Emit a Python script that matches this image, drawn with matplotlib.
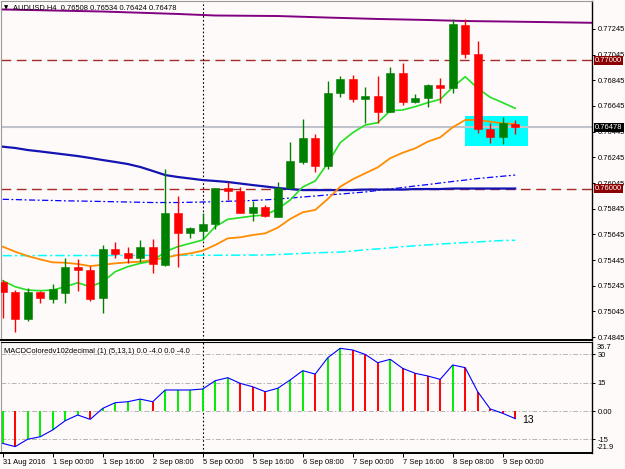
import matplotlib
matplotlib.use('Agg')
import matplotlib.pyplot as plt
import numpy as np

plt.rcParams['font.family'] = ['Liberation Sans', 'DejaVu Sans']

# ---------------- data ----------------
opens = [0.75274, 0.75198, 0.74985, 0.75198, 0.75141, 0.75190, 0.75388, 0.75367, 0.75147, 0.75531,
         0.75497, 0.75463, 0.75544, 0.75406, 0.75814, 0.75653, 0.75673, 0.75726, 0.76004, 0.75983,
         0.75814, 0.75860, 0.75782, 0.76004, 0.76211, 0.76393, 0.76180, 0.76744, 0.76853, 0.76702,
         0.76723, 0.76601, 0.76900, 0.76679, 0.76705, 0.76809, 0.76783, 0.77276, 0.77048, 0.76463,
         0.76401, 0.76508]
highs = [0.75289, 0.75211, 0.75225, 0.75207, 0.75256, 0.75458, 0.75450, 0.75398, 0.75562, 0.75583,
         0.75549, 0.75601, 0.75609, 0.76152, 0.75944, 0.75705, 0.75809, 0.76010, 0.76055, 0.76016,
         0.75905, 0.75874, 0.76055, 0.76362, 0.76544, 0.76427, 0.76842, 0.76879, 0.76887, 0.76795,
         0.76879, 0.76951, 0.76978, 0.76736, 0.76816, 0.76861, 0.77321, 0.77321, 0.77154, 0.76510,
         0.76562, 0.76534]
lows = [0.74993, 0.74886, 0.74970, 0.75108, 0.75112, 0.75112, 0.75206, 0.75128, 0.75030, 0.75458,
        0.75419, 0.75432, 0.75346, 0.75402, 0.75393, 0.75614, 0.75609, 0.75687, 0.75913, 0.75809,
        0.75751, 0.75778, 0.75778, 0.75998, 0.76193, 0.76133, 0.76152, 0.76713, 0.76679, 0.76515,
        0.76510, 0.76598, 0.76653, 0.76666, 0.76640, 0.76666, 0.76749, 0.77021, 0.76437, 0.76359,
        0.76347, 0.76424]
closes = [0.75196, 0.74985, 0.75198, 0.75147, 0.75219, 0.75388, 0.75367, 0.75139, 0.75531, 0.75492,
          0.75463, 0.75544, 0.75412, 0.75814, 0.75653, 0.75692, 0.75723, 0.76004, 0.75983, 0.75814,
          0.75860, 0.75788, 0.76004, 0.76216, 0.76393, 0.76180, 0.76749, 0.76853, 0.76697, 0.76723,
          0.76601, 0.76900, 0.76679, 0.76705, 0.76809, 0.76783, 0.77284, 0.77048, 0.76463, 0.76406,
          0.76510, 0.76478]

ma_fast = [0.75284, 0.75237, 0.75211, 0.75206, 0.75211, 0.75237, 0.75268, 0.75237, 0.75276, 0.75354,
           0.75393, 0.75419, 0.75437, 0.75510, 0.75549, 0.75575, 0.75601, 0.75705, 0.75762, 0.75775,
           0.75788, 0.75796, 0.75842, 0.75913, 0.76014, 0.76061, 0.76199, 0.76359, 0.76437, 0.76497,
           0.76515, 0.76608, 0.76614, 0.76640, 0.76671, 0.76697, 0.76791, 0.76873, 0.76783, 0.76713,
           0.76671, 0.76627]
ma_mid = [0.75549, 0.75510, 0.75476, 0.75450, 0.75427, 0.75424, 0.75414, 0.75398, 0.75408, 0.75419,
          0.75427, 0.75432, 0.75445, 0.75463, 0.75484, 0.75497, 0.75518, 0.75562, 0.75614, 0.75622,
          0.75640, 0.75653, 0.75697, 0.75765, 0.75817, 0.75835, 0.75920, 0.76016, 0.76074, 0.76121,
          0.76167, 0.76238, 0.76281, 0.76315, 0.76367, 0.76401, 0.76479, 0.76536, 0.76536, 0.76523,
          0.76510, 0.76505]
ma_slow = [0.76328, 0.76318, 0.76302, 0.76291, 0.76279, 0.76267, 0.76255, 0.76240, 0.76224, 0.76209,
           0.76193, 0.76170, 0.76139, 0.76107, 0.76092, 0.76080, 0.76068, 0.76061, 0.76053, 0.76041,
           0.76029, 0.76018, 0.76006, 0.75998, 0.75990, 0.75990, 0.75990, 0.75990, 0.75990, 0.75994,
           0.75994, 0.75994, 0.75994, 0.75998, 0.75998, 0.75998, 0.76002, 0.76002, 0.76002, 0.76002,
           0.76002, 0.76002]
ma_dashdot = [0.75918, 0.75916, 0.75913, 0.75911, 0.75909, 0.75906, 0.75905, 0.75903, 0.75901, 0.75899,
              0.75897, 0.75895, 0.75893, 0.75893, 0.75893, 0.75895, 0.75897, 0.75899, 0.75903, 0.75905,
              0.75909, 0.75914, 0.75920, 0.75928, 0.75936, 0.75944, 0.75952, 0.75959, 0.75967, 0.75975,
              0.75987, 0.75998, 0.76010, 0.76022, 0.76033, 0.76045, 0.76057, 0.76068, 0.76080, 0.76089,
              0.76098, 0.76107]
ma_cyan = [0.75479, 0.75479, 0.75479, 0.75480, 0.75480, 0.75480, 0.75480, 0.75480, 0.75480, 0.75481,
           0.75481, 0.75481, 0.75482, 0.75482, 0.75482, 0.75482, 0.75482, 0.75482, 0.75483, 0.75483,
           0.75484, 0.75484, 0.75488, 0.75492, 0.75497, 0.75501, 0.75504, 0.75507, 0.75515, 0.75525,
           0.75532, 0.75540, 0.75549, 0.75556, 0.75563, 0.75570, 0.75575, 0.75581, 0.75586, 0.75592,
           0.75597, 0.75599]
purple_bars = [0, 8, 14, 17, 22, 26, 30, 34, 37, 41, 48]
purple_vals = [0.77397, 0.77381, 0.77362, 0.77350, 0.77346, 0.77334, 0.77323, 0.77315, 0.77307, 0.77302, 0.77292]

macd = [-17.1, -18.8, -14.9, -13.6, -10.0, -5.1, -2.1, -4.4, 1.4, 4.4,
        4.9, 6.3, 4.9, 11.1, 11.1, 11.1, 11.6, 16.0, 17.6, 14.6,
        12.8, 10.2, 12.0, 16.4, 21.3, 19.5, 28.1, 33.1, 32.2, 29.9,
        25.5, 27.3, 22.5, 19.9, 18.5, 16.7, 24.3, 22.9, 10.2, 1.1,
        -1.2, -4.0]

level_lines = [0.77000, 0.76000]
last_close = 0.76478
rect_bars = (37, 42)
rect_prices = (0.76333, 0.76567)
separator_bar = 16

price_ticks = [0.77245, 0.77045, 0.76845, 0.76645, 0.76445, 0.76245, 0.76045, 0.75845,
               0.75645, 0.75445, 0.75245, 0.75045, 0.74845]
macd_levels = [30, 15, 0, -15]
macd_level_labels = ['30', '15', '0.00', '-15']
macd_range = (-21.9, 36.7)
time_tick_bars = [0, 4, 8, 12, 16, 20, 24, 28, 32, 36, 40]
time_labels = ['31 Aug 2016', '1 Sep 00:00', '1 Sep 16:00', '2 Sep 08:00', '5 Sep 00:00',
               '5 Sep 16:00', '6 Sep 08:00', '7 Sep 00:00', '7 Sep 16:00', '8 Sep 08:00',
               '9 Sep 00:00']

# ---------------- figure ----------------
W, H = 625, 469
bg = '#FFFAFA'
fig = plt.figure(figsize=(W / 100, H / 100), dpi=100)
fig.patch.set_facecolor(bg)

def fx(px):
    return px / W

def fy(py):
    return 1 - py / H

ax = fig.add_axes([fx(0.5), fy(340), fx(592) - fx(0.5), fy(1) - fy(340)])
axm = fig.add_axes([fx(0.5), fy(452.5), fx(592) - fx(0.5), fy(341.5) - fy(452.5)])
for a in (ax, axm):
    a.set_facecolor(bg)
    a.set_xlim(-0.176, 47.144)

ax.set_ylim(0.74822, 0.77463)
axm.set_ylim(*macd_range)

idx = np.arange(len(opens))
o = np.array(opens); c = np.array(closes); h = np.array(highs); l = np.array(lows)
up = c >= o
ccol = np.where(up, '#008000', '#FF0000')

# background objects
ax.add_patch(plt.Rectangle((rect_bars[0], rect_prices[0]), rect_bars[1] - rect_bars[0],
                           rect_prices[1] - rect_prices[0], facecolor='#00FFFF', edgecolor='none', zorder=1))
ax.axhline(last_close, color='#BFC3CB', lw=1.5, zorder=1.2)
for lv in level_lines:
    ax.axhline(lv, color='#A52A2A', lw=1.0, linestyle=(0, (7, 4)), zorder=1.3)
ax.axvline(separator_bar, color='black', lw=0.8, linestyle=(0, (1.5, 2)), zorder=1.4)
axm.axvline(separator_bar, color='black', lw=0.8, linestyle=(0, (1.5, 2)), zorder=1.4)

# moving averages
ax.plot(purple_bars, purple_vals, color='#800080', lw=1.4, zorder=2)
ax.plot(idx, ma_cyan, color='#00FFFF', lw=1.1, linestyle=(0, (6, 2, 1.5, 2)), zorder=2)
ax.plot(idx, ma_dashdot, color='#0000FF', lw=0.9, linestyle=(0, (5, 2, 1.5, 2)), zorder=2)
ax.plot(idx, ma_slow, color='#1414B4', lw=1.6, zorder=2)
ax.plot(idx, ma_mid, color='#FF8C00', lw=1.3, zorder=2.1)
ax.plot(idx, ma_fast, color='#22E022', lw=1.2, zorder=2.2)

# candles
ax.vlines(idx, l, h, colors=ccol, lw=1.0, zorder=3)
body_lo = np.minimum(o, c)
body_h = np.maximum(np.abs(c - o), 0.00003)
ax.bar(idx, body_h, bottom=body_lo, width=0.66, color=ccol, edgecolor=ccol, lw=0.4, zorder=3.1)

# MACD panel
for lv in macd_levels:
    axm.axhline(lv, color='#B4B4B4', lw=0.7, linestyle=(0, (5, 2, 1.5, 2)), zorder=1)
mv = np.array(macd)
mcol = ['#00EE00' if i == 0 or mv[i] >= mv[i - 1] else '#FF0000' for i in range(len(mv))]
axm.vlines(idx, 0, mv, colors=mcol, lw=1.4, zorder=2)
axm.plot(idx, mv, color='#0000FF', lw=0.8, zorder=3)
axm.text(41.55, -4.7, '13', fontsize=7.5, color='black', ha='left', va='center')
axm.text(0.006, 0.94, 'MACDColoredv102decimal (1) (5,13,1) 0.0 -4.0 0.0 -4.0', transform=axm.transAxes,
         fontsize=5.4, ha='left', va='top', color='black')

# spines
for a in (ax, axm):
    a.spines['left'].set_color('#9A9A9A'); a.spines['left'].set_linewidth(0.8)
    a.spines['right'].set_color('black'); a.spines['right'].set_linewidth(1.0)
    a.spines['bottom'].set_color('black'); a.spines['bottom'].set_linewidth(1.4)
ax.spines['top'].set_color('#9A9A9A'); ax.spines['top'].set_linewidth(0.8)
axm.spines['top'].set_color('black'); axm.spines['top'].set_linewidth(0.8)

# y axes
ax.yaxis.tick_right()
ax.set_yticks(price_ticks)
ax.set_yticklabels([f'{v:.5f}' for v in price_ticks])
ax.tick_params(axis='y', length=2.5, width=0.7, pad=1.5, labelsize=5.4, direction='out')
ax.set_xticks([])

axm.yaxis.tick_right()
axm.set_yticks(macd_levels)
axm.set_yticklabels(macd_level_labels)
axm.tick_params(axis='y', length=2.5, width=0.7, pad=1.5, labelsize=5.4, direction='out')
axm.annotate(f'{macd_range[1]:.1f}', xy=(1, macd_range[1]), xycoords=('axes fraction', 'data'),
             xytext=(3.2, -4.0), textcoords='offset points', fontsize=5.4, va='center', ha='left')
axm.annotate(f'{macd_range[0]:.1f}', xy=(1, macd_range[0]), xycoords=('axes fraction', 'data'),
             xytext=(3.2, 3.6), textcoords='offset points', fontsize=5.4, va='center', ha='left')

axm.set_xticks(time_tick_bars)
axm.set_xticklabels(time_labels)
for lab in axm.get_xticklabels():
    lab.set_ha('left')
axm.tick_params(axis='x', length=3, width=0.7, pad=2, labelsize=5.4, direction='out')

# price label boxes on axis
def price_box(val, fc):
    ax.annotate(f'{val:.5f}', xy=(1, val), xycoords=('axes fraction', 'data'),
                xytext=(2.3, 0), textcoords='offset points', fontsize=5.4, color='white',
                va='center', ha='left', zorder=10, annotation_clip=False,
                bbox=dict(boxstyle='square,pad=0.15', fc=fc, ec='none'))

for lv in level_lines:
    price_box(lv, '#8B0000')
price_box(last_close, 'black')

# header
fig.text(fx(4), fy(7.5), '\u25BC', fontsize=4, family='DejaVu Sans', ha='left', va='center', color='black')
fig.text(fx(13), fy(7.5), 'AUDUSD,H4  0.76508 0.76534 0.76424 0.76478', fontsize=5.4,
         ha='left', va='center', color='black')

fig.savefig('out.png', dpi=100, facecolor=bg)
